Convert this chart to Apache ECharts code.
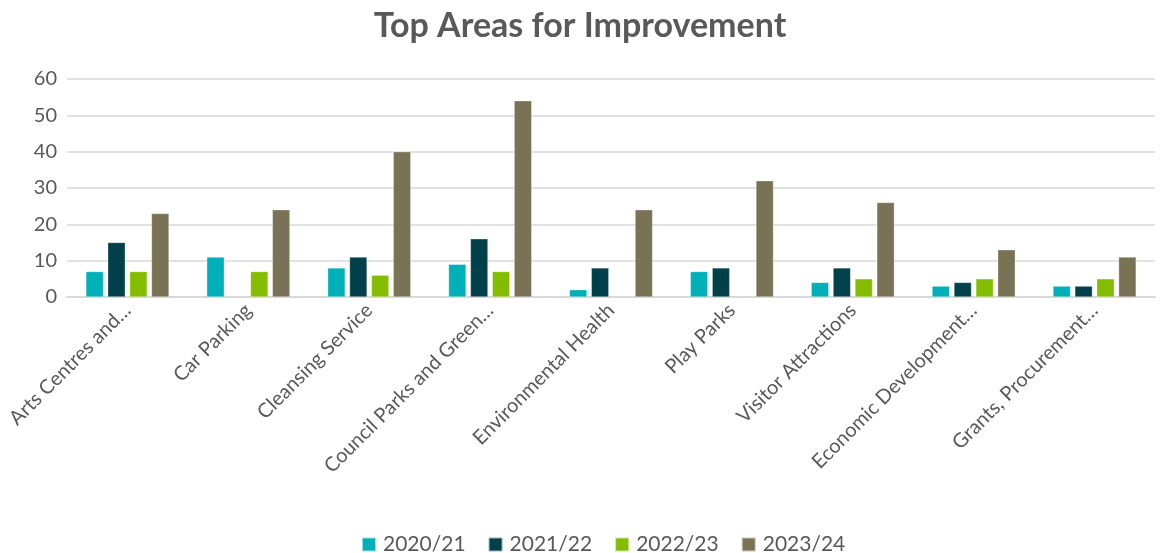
<!DOCTYPE html>
<html><head><meta charset="utf-8">
<script src="https://cdn.jsdelivr.net/npm/echarts@6/dist/echarts.min.js"></script>
<style>html,body{margin:0;padding:0;background:#fff}#c{width:1160px;height:553px}</style>
</head><body><div id="c"></div>
<script>
const categories = ["Arts Centres and…","Car Parking","Cleansing Service","Council Parks and Green…","Environmental Health","Play Parks","Visitor Attractions","Economic Development…","Grants, Procurement…"];
const seriesNames = ["2020/21","2021/22","2022/23","2023/24"];
const s2020 = [7,11,8,9,2,7,4,3,3];
const s2021 = [15,null,11,16,8,8,8,4,3];
const s2022 = [7,7,6,7,null,null,5,5,5];
const s2023 = [23,24,40,54,24,32,26,13,11];
const yTicks = {min:0,max:60,interval:10};
const colors = ["#00B0B9","#00404A","#84BD00","#7A7254"];
const values = [s2020,s2021,s2022,s2023];
const font = "Lato, 'Open Sans', sans-serif";
const chart = echarts.init(document.getElementById('c'));
chart.setOption({
  animation:false,
  title:{text:"Top Areas for Improvement",left:'center',top:4,textStyle:{fontFamily:font,fontSize:34,fontWeight:'bold',color:'#595959'}},
  legend:{top:529,left:356,itemWidth:14,itemHeight:14,itemGap:22,icon:'rect',textStyle:{fontFamily:font,fontSize:21,color:'#595959',padding:[0,0,0,2]},data:seriesNames},
  grid:{left:67,right:5,top:79,bottom:256,containLabel:false},
  xAxis:{type:'category',data:categories,axisTick:{show:false},axisLine:{lineStyle:{color:'#D9D9D9',width:2}},
    axisLabel:{rotate:45,interval:0,margin:10,fontFamily:font,fontSize:20,color:'#595959'}},
  yAxis:{type:'value',min:yTicks.min,max:yTicks.max,interval:yTicks.interval,axisLine:{show:false},axisTick:{show:false},
    splitLine:{lineStyle:{color:'#D9D9D9',width:1.5}},axisLabel:{margin:10,fontFamily:font,fontSize:20,color:'#595959'}},
  series:seriesNames.map((n,i)=>({name:n,type:'bar',data:values[i],barWidth:17.5,barGap:'25%',
    itemStyle:{color:colors[i],borderColor:'rgba(255,255,255,0.6)',borderWidth:0.5}}))
});
</script></body></html>
